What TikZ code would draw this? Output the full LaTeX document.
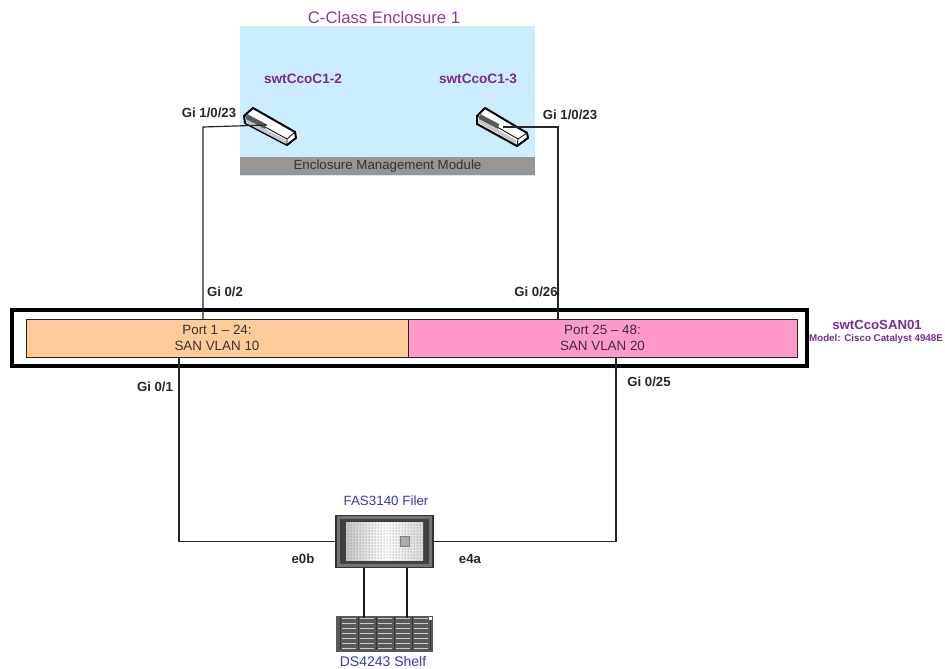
\documentclass[tikz,border=0pt]{standalone}
\usepackage{fontspec}
\setmainfont{Liberation Sans}
\usetikzlibrary{patterns}
\definecolor{encblue}{HTML}{CCECFF}
\definecolor{modgray}{HTML}{969696}
\definecolor{vlanorange}{HTML}{FFCC99}
\definecolor{vlanpink}{HTML}{FF99CC}
\definecolor{swpurple}{HTML}{7A2A92}
\definecolor{titlepurple}{HTML}{93389A}
\definecolor{devblue}{HTML}{3636C0}
\tikzset{
  portlabel/.style={font=\fontsize{13.2}{15}\selectfont\bfseries, text=black!85, inner sep=0pt},
  swlabel/.style={font=\fontsize{13.6}{15}\selectfont\bfseries, text=swpurple, inner sep=0pt},
  devlabel/.style={font=\fontsize{13.4}{15}\selectfont, text=devblue, inner sep=0pt},
  vlanbox/.style={draw=black!75!brown, line width=1pt, minimum height=38pt, inner sep=0pt, align=center, font=\fontsize{13.4}{16}\selectfont, text=black!80},
  wire/.style={line width=1.2pt, black!85},
  heavywire/.style={line width=2pt, black!90},
}
\begin{document}
\begin{tikzpicture}[x=1pt,y=-1pt]
\useasboundingbox (0,0) rectangle (945,669);
\node[fill=encblue, minimum width=295pt, minimum height=150pt, inner sep=0pt] (encl) at (387.5,101) {};
\node[fill=modgray, minimum width=295pt, minimum height=18pt, inner sep=0pt, font=\fontsize{13.3}{15}\selectfont, text=black!80] (emm) at (387.5,166) {Enclosure Management Module};
\node[font=\fontsize{16.7}{19}\selectfont, text=titlepurple, inner sep=0pt] (encltitle) at (384,18) {C-Class Enclosure 1};
\node[swlabel] (namel) at (303,79) {swtCcoC1-2};
\node[swlabel] (namer) at (478,79) {swtCcoC1-3};
\draw[line width=2pt, black, fill=white, line join=round] (244,116) -- (253,108) -- (295,132) -- (296,138) -- (287,145) -- (245,123) -- cycle;
\fill[gray!45] (246,119) -- (286,140) -- (286,144) -- (246,123) -- cycle;
\draw[line width=0.8pt, black] (245,116) -- (287,139) -- (295,132) (287,139) -- (287,145);
\fill[gray!70!black] (247,114) -- (266,124) -- (265,129) -- (246,119) -- cycle;
\coordinate (swl) at (267,125);
\draw[line width=2pt, black, fill=white, line join=round] (477,116) -- (485,108) -- (527,133) -- (528,138) -- (517,146) -- (477,124) -- cycle;
\fill[gray!45] (479,119) -- (516,140) -- (516,144) -- (479,123) -- cycle;
\draw[line width=0.8pt, black] (478,116) -- (518,139) -- (527,133) (518,139) -- (517,146);
\fill[gray!70!black] (480,114) -- (499,124) -- (498,129) -- (479,119) -- cycle;
\coordinate (swr) at (503,127);
\node[portlabel] (gil) at (209,113) {Gi 1/0/23};
\node[portlabel] (gir) at (570,115) {Gi 1/0/23};
\node[portlabel] (gi02) at (225,292) {Gi 0/2};
\node[portlabel] (gi026) at (536,292) {Gi 0/26};
\node[portlabel] (gi01) at (155,387) {Gi 0/1};
\node[portlabel] (gi025) at (649,382) {Gi 0/25};
\node[draw=black, line width=3.2pt, minimum width=795pt, minimum height=56pt, inner sep=0pt] (san) at (409.5,338) {};
\node[vlanbox, fill=vlanorange, minimum width=382pt] (vlana) at (217,338) {Port 1 -- 24:\\SAN VLAN 10};
\node[vlanbox, fill=vlanpink, minimum width=389pt] (vlanb) at (602.5,338) {Port 25 -- 48:\\SAN VLAN 20};
\node[font=\fontsize{13.2}{15}\selectfont\bfseries, text=swpurple, inner sep=0pt] (sanname) at (877,325) {swtCcoSAN01};
\node[font=\fontsize{9.8}{12}\selectfont\bfseries, text=swpurple, inner sep=0pt] (sanmodel) at (876,339) {Model: Cisco Catalyst 4948E};
\node[draw=black!80, fill=black!55, line width=1.2pt, minimum width=97pt, minimum height=52pt, inner sep=0pt] (filer) at (384.5,541.5) {};
\fill[black!75] (340,519) rectangle (429,564);
\shade[left color=gray!45, right color=gray!30, middle color=white] (346,522) rectangle (423,560);
\fill[pattern=dots, pattern color=gray!70!black] (346,522) rectangle (423,560);
\fill[gray!65, draw=gray] (400,536) rectangle (409,546);
\node[fill=black!65, minimum width=97pt, minimum height=36pt, inner sep=0pt] (shelf) at (384.5,634) {};
\foreach \row in {621,626,631,636,641,646,651}
  \foreach \col in {349,367,385,403,421}
    \fill[gray!40] (\col-7,\row-3) rectangle (\col+7,\row-1.6);
\foreach \col in {340,358,376,394,412,430}
  \draw[black!80, line width=0.8pt] (\col,617) -- (\col,650);
\fill[white] (429,617) rectangle (432,620);
\node[devlabel] (filername) at (386,501) {FAS3140 Filer};
\node[devlabel, font=\fontsize{14}{16}\selectfont] (shelfname) at (383,661.5) {DS4243 Shelf};
\node[portlabel] (e0b) at (303,559) {e0b};
\node[portlabel] (e4a) at (470,559) {e4a};
\coordinate (pa2) at (203,319);
\coordinate (pb26) at (558,319);
\coordinate (pa1) at (179,357);
\coordinate (pb25) at (616,357);
\draw[wire] (swl) -- (203,127) -- (pa2);
\draw[wire] (swr) -- (558,127) -- (pb26);
\draw[wire] (pa1) |- (filer.west);
\draw[wire] (pb25) |- (filer.east);
\draw[heavywire] (364,568) -- (364,618);
\draw[heavywire] (406.5,568) -- (406.5,618);
\end{tikzpicture}
\end{document}
